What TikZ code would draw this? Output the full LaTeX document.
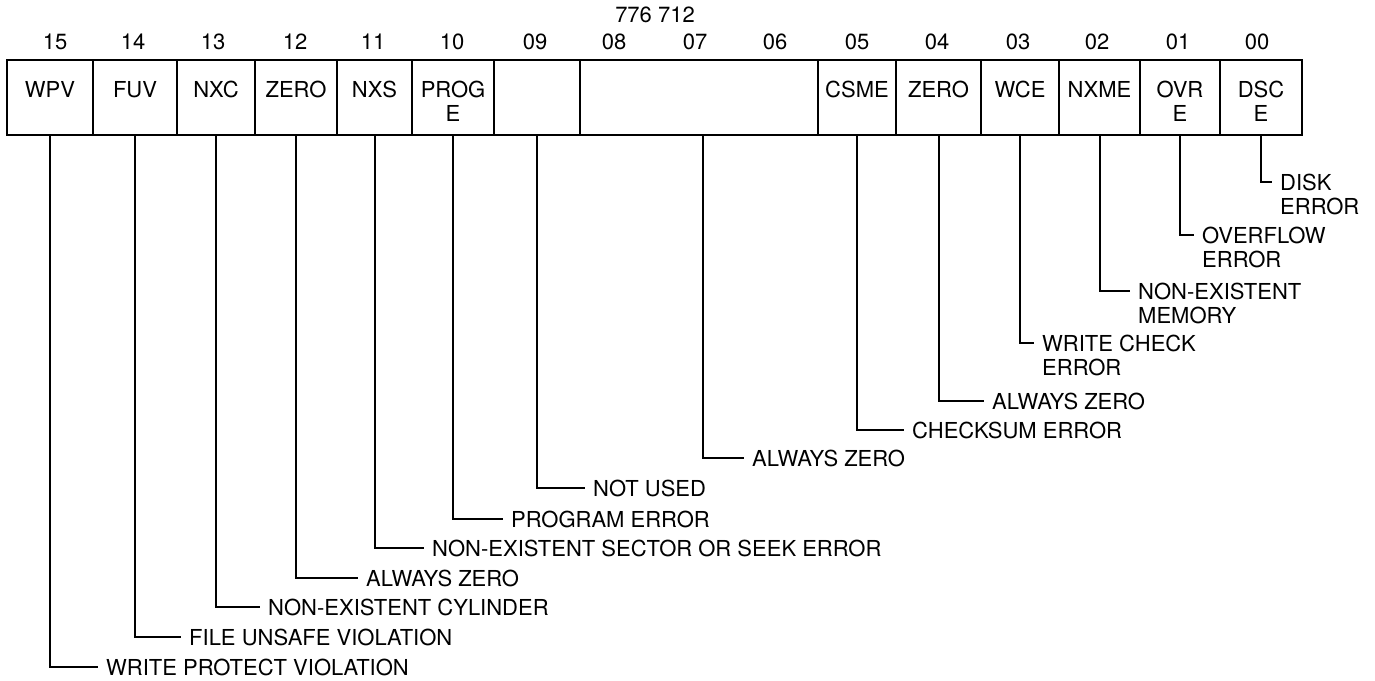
\documentclass[tikz,border=0pt]{standalone}
\usepackage{fontspec}
\setmainfont{TeX Gyre Heros}
\usepackage{tikz}
\newcommand\regfont{\fontsize{22}{24}\selectfont}
\newcommand\cstack[2]{\begin{tabular}[t]{@{}c@{}}#1\\#2\end{tabular}}
\newcommand\lstack[2]{\begin{tabular}[t]{@{}l@{}}#1\\#2\end{tabular}}

\begin{document}
\begin{tikzpicture}[x=1pt, y=-1pt,
  cell/.style={draw=black, line width=2pt, anchor=north, inner xsep=0pt, inner ysep=0pt, minimum height=75pt, text height=37pt, text depth=38pt, font=\regfont},
  bitno/.style={inner sep=0pt, font=\regfont},
  lbl/.style={anchor=base west, inner xsep=8pt, inner ysep=0pt, yshift=-8pt, font=\regfont},
  lead/.style={draw=black, line width=2pt}
]
\useasboundingbox (0,0) rectangle (1375,680);
% register address and bit numbers
\node[bitno] (addr) at (655,15) {776 712};
\foreach \b/\x in {15/55,14/133,13/213,12/295,11/373,10/452,09/535,08/614,07/695,06/775,05/857,04/937,03/1018,02/1097,01/1178,00/1257}
  {\node[bitno] (n\b) at (\x,42) {\b};}
% register cells
\foreach \n/\l/\r/\t in {15/7/93/WPV, 14/93/177/FUV, 13/177/255/NXC, 12/255/337/ZERO, 11/337/412/NXS, 10/412/494/{\cstack{PROG}{E}}, 09/494/580/{}, 08/580/818/{}, 05/818/896/CSME, 04/896/981/ZERO, 03/981/1059/WCE, 02/1059/1140/NXME, 01/1140/1220/{\cstack{OVR}{E}}, 00/1220/1302/{\cstack{DSC}{E}}}
  {\node[cell, minimum width={(\r-\l)*1pt}] (c\n) at ({(\l+\r)/2},59) {\t};}
\coordinate (b07) at (703,135);
% bit descriptions
\node[lbl] (l00) at (1272,182) {\lstack{DISK}{ERROR}};
\node[lbl] (l01) at (1194,235) {\lstack{OVERFLOW}{ERROR}};
\node[lbl] (l02) at (1130,291) {\lstack{NON-EXISTENT}{MEMORY}};
\node[lbl] (l03) at (1034,343) {\lstack{WRITE CHECK}{ERROR}};
\node[lbl] (l04) at (984,401) {ALWAYS ZERO};
\node[lbl] (l05) at (904,430) {CHECKSUM ERROR};
\node[lbl] (l07) at (744,458) {ALWAYS ZERO};
\node[lbl] (l09) at (585,488) {NOT USED};
\node[lbl] (l10) at (503,519) {PROGRAM ERROR};
\node[lbl] (l11) at (424,548) {NON-EXISTENT SECTOR OR SEEK ERROR};
\node[lbl] (l12) at (358,578) {ALWAYS ZERO};
\node[lbl] (l13) at (260,607) {NON-EXISTENT CYLINDER};
\node[lbl] (l14) at (181,637) {FILE UNSAFE VIOLATION};
\node[lbl] (l15) at (98,667) {WRITE PROTECT VIOLATION};
% leaders
\foreach \n in {15,14,13,12,11,10,09,05,04,03,02,01,00}
  {\draw[lead] (c\n.south) |- ([yshift=8pt]l\n.base west);}
\draw[lead] (b07) |- ([yshift=8pt]l07.base west);
\end{tikzpicture}
\end{document}
